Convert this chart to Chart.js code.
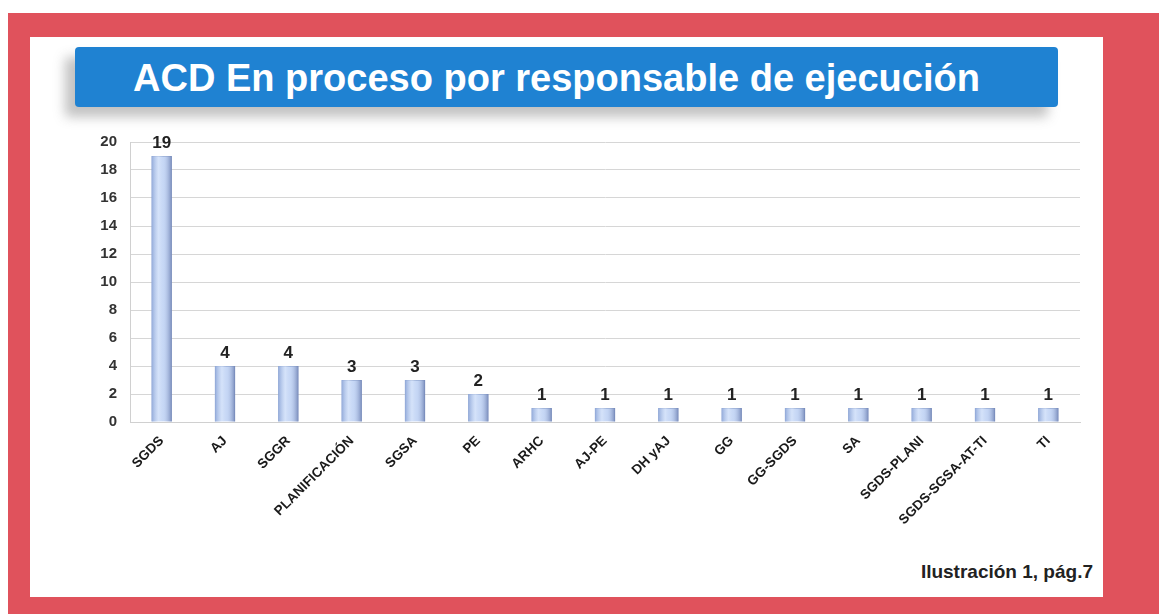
<!DOCTYPE html>
<html>
<head>
<meta charset="utf-8">
<script src="https://cdn.jsdelivr.net/npm/chart.js@4/dist/chart.umd.min.js"></script>
<style>
  html, body { margin: 0; padding: 0; background: #fff; }
  #page { position: relative; width: 1159px; height: 614px; overflow: hidden; background: #fff; }
  #frame { position: absolute; left: 8px; top: 13px; width: 1151px; height: 601px; background: #e0525c; }
  #panel { position: absolute; left: 30px; top: 37px; width: 1073px; height: 560px; background: #fff; }
  #title {
    position: absolute; left: 75px; top: 47px; width: 983px; height: 60px;
    background: #1f82d2; border-radius: 4px;
    box-shadow: -10px 10px 12px rgba(120,120,120,0.45);
    color: #fff; font: bold 38px Arial, "Liberation Sans", sans-serif;
    text-align: center; line-height: 62px; text-indent: -20px;
  }
  #chartBox { position: absolute; left: 30px; top: 120px; width: 1070px; height: 427px; }
  #foot { position: absolute; right: 66px; top: 561px; font: bold 19px Arial, "Liberation Sans", sans-serif; color: #222; }
</style>
</head>
<body>
<div id="page">
  <div id="frame"></div>
  <div id="panel"></div>
  <div id="title">ACD En proceso por responsable de ejecución</div>
  <div id="chartBox"><canvas id="chart" width="1070" height="427"></canvas></div>
  <div id="foot">Ilustración 1, pág.7</div>
</div>
<script>
// datos
const categorias = ["SGDS", "AJ", "SGGR", "PLANIFICACIÓN", "SGSA", "PE", "ARHC", "AJ-PE",
  "DH yAJ", "GG", "GG-SGDS", "SA", "SGDS-PLANI", "SGDS-SGSA-AT-TI", "TI"];
const valores = [19, 4, 4, 3, 3, 2, 1, 1, 1, 1, 1, 1, 1, 1, 1];
const ticksY = [0, 2, 4, 6, 8, 10, 12, 14, 16, 18, 20];

// etiquetas de valor encima de las barras
const etiquetas = {
  id: "etiquetas",
  afterDatasetsDraw(chart) {
    const ctx = chart.ctx;
    const meta = chart.getDatasetMeta(0);
    ctx.save();
    ctx.font = "bold 17px Arial";
    ctx.fillStyle = "#222";
    ctx.textAlign = "center";
    ctx.textBaseline = "bottom";
    meta.data.forEach((bar, i) => {
      ctx.fillText(valores[i], bar.x, bar.y - 4);
    });
    ctx.restore();
  }
};

// brillo central de cada barra (efecto cilindro)
const brillo = {
  id: "brillo",
  afterDatasetDraw(chart) {
    const ctx = chart.ctx;
    chart.getDatasetMeta(0).data.forEach(bar => {
      const w = bar.width, x0 = bar.x - w / 2;
      const g = ctx.createLinearGradient(x0, 0, x0 + w, 0);
      g.addColorStop(0, "rgba(140,165,215,0.9)");
      g.addColorStop(0.35, "rgba(225,236,253,0.6)");
      g.addColorStop(0.6, "rgba(205,220,247,0.3)");
      g.addColorStop(1, "rgba(110,130,180,0.9)");
      ctx.save();
      ctx.fillStyle = g;
      ctx.fillRect(x0, bar.y, w, bar.base - bar.y);
      ctx.restore();
    });
  }
};

new Chart(document.getElementById("chart"), {
  type: "bar",
  data: {
    labels: categorias,
    datasets: [{
      data: valores,
      backgroundColor: "#c2d4f4",
      borderColor: "#8ea4cf",
      borderWidth: 1,
      categoryPercentage: 1,
      barPercentage: 0.32
    }]
  },
  options: {
    responsive: false,
    animation: false,
    layout: { padding: { top: 21, right: 20, left: 0, bottom: 0 } },
    plugins: { legend: { display: false }, tooltip: { enabled: false } },
    scales: {
      y: {
        min: 0, max: 20,
        afterFit(scale) { scale.width = 100; },
        afterBuildTicks(scale) { scale.ticks = ticksY.map(v => ({ value: v })); },
        grid: { color: "#d6d6d6", drawTicks: false },
        border: { color: "#d0d0d0" },
        ticks: { font: { family: "Arial", size: 15, weight: "bold" }, color: "#333", padding: 13 }
      },
      x: {
        afterFit(scale) { scale.height = 125; },
        grid: { display: false },
        border: { color: "#d0d0d0" },
        ticks: {
          minRotation: 45, maxRotation: 45, autoSkip: false,
          font: { family: "Arial", size: 13.5, weight: "bold" }, color: "#1a1a1a", padding: 3
        }
      }
    }
  },
  plugins: [brillo, etiquetas]
});
</script>
</body>
</html>
